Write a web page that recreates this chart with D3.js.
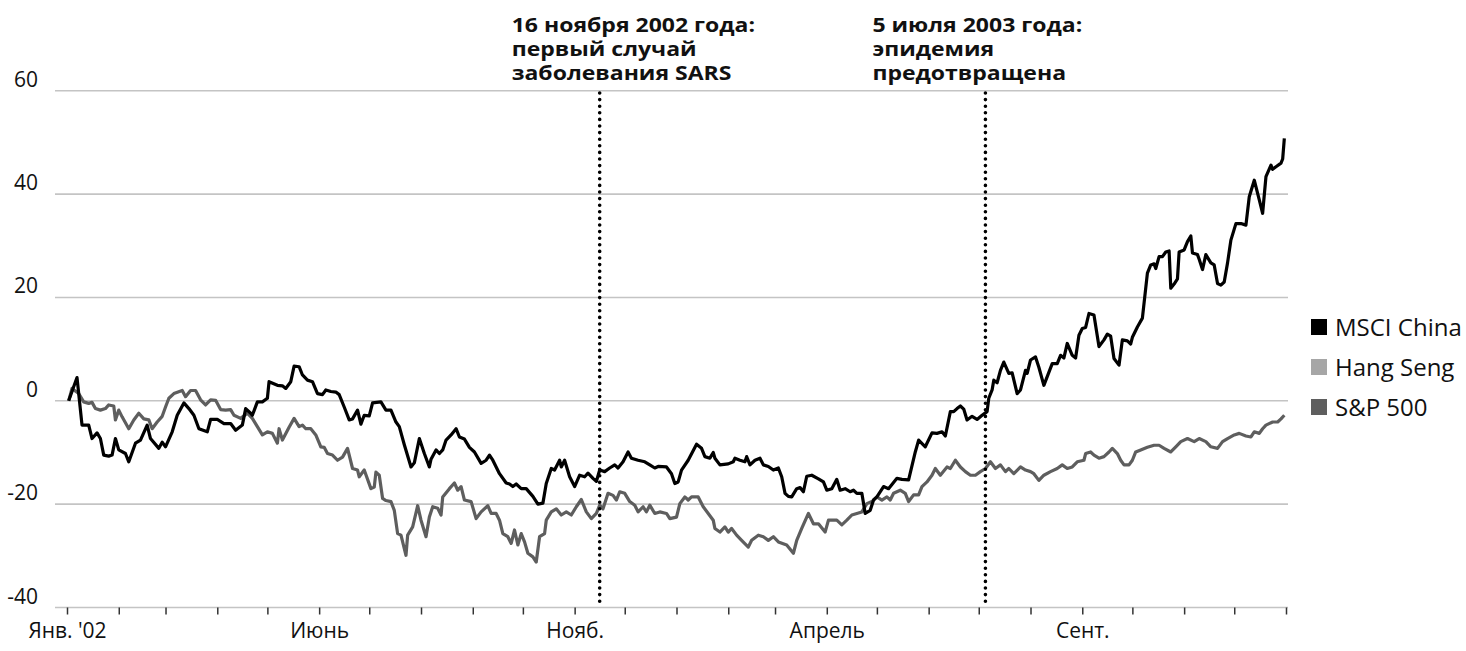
<!DOCTYPE html>
<html>
<head>
<meta charset="utf-8">
<script src="https://cdn.jsdelivr.net/npm/d3@7"></script>
<style>
  body { margin: 0; background: #fff; }
  svg { display: block; }
  text { font-family: "Open Sans", "Noto Sans", sans-serif; }
</style>
</head>
<body>
<svg id="chart" width="1466" height="651"></svg>
<script>
// Cumulative change since 1 Jan 2002, percent
const msciChina = [
  ["2002-01-02",0],["2002-01-07",4.5],["2002-01-10",-4.7],["2002-01-14",-4.7],["2002-01-16",-7.3],["2002-01-19",-6.2],["2002-01-21",-7.3],["2002-01-23",-10.5],["2002-01-26",-10.7],["2002-01-28",-10.5],["2002-01-30",-7.3],["2002-02-01",-9.5],["2002-02-05",-10.2],["2002-02-07",-11.8],["2002-02-11",-8.2],["2002-02-14",-7.6],["2002-02-18",-4.7],["2002-02-20",-7.3],["2002-02-25",-9.2],["2002-02-27",-8.0],
  ["2002-03-01",-8.9],["2002-03-05",-6.0],["2002-03-08",-2.8],["2002-03-12",-0.4],["2002-03-15",-1.5],["2002-03-18",-2.8],["2002-03-21",-5.4],["2002-03-26",-6.0],["2002-03-28",-3.6],["2002-04-01",-3.6],["2002-04-05",-4.4],["2002-04-09",-4.4],["2002-04-12",-5.7],["2002-04-16",-4.7],["2002-04-18",-1.5],["2002-04-21",-2.4],["2002-04-22",-2.8],["2002-04-25",-0.2],["2002-04-28",-0.2],
  ["2002-05-01",0.5],["2002-05-02",3.7],["2002-05-07",3.0],["2002-05-10",2.9],["2002-05-12",2.4],["2002-05-15",3.7],["2002-05-17",6.7],["2002-05-20",6.6],["2002-05-22",5.0],["2002-05-25",4.0],["2002-05-28",3.7],["2002-05-31",1.4],["2002-06-03",1.2],["2002-06-05",2.1],["2002-06-08",1.8],["2002-06-11",1.7],["2002-06-13",1.2],["2002-06-16",-1.2],["2002-06-19",-3.7],["2002-06-21",-3.5],["2002-06-24",-1.8],["2002-06-26",-4.5],["2002-06-28",-2.8],
  ["2002-07-01",-2.9],["2002-07-03",-0.4],["2002-07-08",-0.2],["2002-07-11",-1.8],["2002-07-14",-1.8],["2002-07-17",-4.1],["2002-07-19",-5.0],["2002-07-22",-8.5],["2002-07-26",-12.8],["2002-07-28",-12.0],["2002-07-31",-7.3],["2002-08-03",-10.2],["2002-08-06",-12.8],["2002-08-07",-11.3],["2002-08-10",-9.5],["2002-08-12",-10.2],["2002-08-14",-9.5],["2002-08-16",-7.6],["2002-08-19",-6.6],["2002-08-22",-5.4],["2002-08-24",-7.0],["2002-08-27",-7.4],["2002-08-30",-9.0],
  ["2002-09-02",-9.9],["2002-09-06",-12.1],["2002-09-09",-11.5],["2002-09-11",-10.5],["2002-09-13",-11.5],["2002-09-17",-14.1],["2002-09-21",-15.9],["2002-09-23",-16.1],["2002-09-25",-16.6],["2002-09-27",-16.1],["2002-09-30",-17.0],["2002-10-03",-17.0],["2002-10-07",-18.5],["2002-10-10",-20.0],["2002-10-13",-19.8],["2002-10-15",-16.0],["2002-10-18",-13.1],["2002-10-20",-13.4],["2002-10-23",-11.5],["2002-10-24",-12.8],["2002-10-26",-11.5],["2002-10-29",-14.7],
  ["2002-11-01",-16.6],["2002-11-04",-14.4],["2002-11-07",-14.7],["2002-11-09",-14.0],["2002-11-12",-15.0],["2002-11-14",-15.6],["2002-11-16",-13.4],["2002-11-19",-13.7],["2002-11-22",-13.0],["2002-11-25",-12.4],["2002-11-27",-13.0],["2002-11-30",-11.8],["2002-12-03",-9.9],["2002-12-05",-11.1],["2002-12-09",-11.5],["2002-12-13",-11.8],["2002-12-16",-12.4],["2002-12-19",-13.0],["2002-12-21",-12.7],["2002-12-26",-12.8],["2002-12-29",-14.1],["2002-12-31",-16.0],
  ["2003-01-02",-15.7],["2003-01-04",-13.4],["2003-01-08",-11.5],["2003-01-13",-8.4],["2003-01-16",-9.2],["2003-01-18",-10.8],["2003-01-21",-11.1],["2003-01-23",-10.0],["2003-01-24",-11.1],["2003-01-27",-12.4],["2003-02-01",-12.2],["2003-02-04",-11.8],["2003-02-05",-11.1],["2003-02-08",-11.5],["2003-02-11",-11.8],["2003-02-12",-10.8],["2003-02-14",-12.4],["2003-02-17",-11.5],["2003-02-20",-11.1],["2003-02-22",-12.4],["2003-02-25",-12.7],["2003-02-28",-13.4],
  ["2003-03-03",-13.0],["2003-03-05",-14.7],["2003-03-07",-17.9],["2003-03-09",-18.5],["2003-03-11",-18.6],["2003-03-14",-17.0],["2003-03-16",-16.8],["2003-03-18",-17.6],["2003-03-20",-14.6],["2003-03-23",-14.4],["2003-03-27",-15.1],["2003-03-30",-15.7],["2003-04-01",-17.3],["2003-04-04",-17.0],["2003-04-07",-15.2],["2003-04-09",-17.3],["2003-04-12",-17.0],["2003-04-15",-17.6],["2003-04-17",-17.3],["2003-04-19",-17.9],["2003-04-22",-17.9],["2003-04-24",-21.8],["2003-04-27",-21.2],["2003-04-29",-19.2],
  ["2003-05-01",-18.6],["2003-05-05",-16.6],["2003-05-08",-17.0],["2003-05-13",-15.0],["2003-05-16",-15.2],["2003-05-20",-15.3],["2003-05-24",-9.9],["2003-05-26",-7.6],["2003-05-30",-8.9],["2003-06-03",-6.2],["2003-06-06",-6.3],["2003-06-09",-6.0],["2003-06-11",-6.8],["2003-06-14",-2.1],["2003-06-16",-2.1],["2003-06-18",-1.5],["2003-06-20",-1.0],["2003-06-22",-1.6],["2003-06-24",-3.7],["2003-06-27",-3.0],["2003-06-30",-3.6],
  ["2003-07-03",-2.8],["2003-07-06",-2.1],["2003-07-07",0.5],["2003-07-09",2.1],["2003-07-10",4.0],["2003-07-12",3.5],["2003-07-14",5.9],["2003-07-16",7.5],["2003-07-19",5.3],["2003-07-21",5.4],["2003-07-24",1.4],["2003-07-26",2.1],["2003-07-29",5.9],["2003-07-30",5.3],["2003-08-01",7.9],["2003-08-04",8.5],["2003-08-06",6.5],["2003-08-09",3.0],["2003-08-14",7.2],["2003-08-17",7.2],["2003-08-19",8.8],["2003-08-21",8.3],["2003-08-23",11.1],["2003-08-26",8.8],["2003-08-28",8.3],["2003-08-30",12.7],
  ["2003-09-01",14.0],["2003-09-03",14.2],["2003-09-05",16.9],["2003-09-08",16.6],["2003-09-11",10.5],["2003-09-14",11.8],["2003-09-16",12.9],["2003-09-18",12.5],["2003-09-20",8.2],["2003-09-23",6.9],["2003-09-25",11.8],["2003-09-28",11.6],["2003-09-30",11.0],["2003-10-01",12.3],["2003-10-04",14.3],["2003-10-07",16.0],["2003-10-10",24.7],["2003-10-12",26.3],["2003-10-14",26.5],["2003-10-15",25.6],["2003-10-17",27.9],["2003-10-19",27.9],["2003-10-21",28.8],["2003-10-23",29.0],["2003-10-24",21.8],["2003-10-26",22.6],["2003-10-28",23.6],["2003-10-29",28.8],
  ["2003-11-01",29.2],["2003-11-03",30.8],["2003-11-05",31.9],["2003-11-06",28.6],["2003-11-09",28.3],["2003-11-10",27.4],["2003-11-12",25.4],["2003-11-14",28.3],["2003-11-17",26.7],["2003-11-19",26.3],["2003-11-21",22.7],["2003-11-23",22.4],["2003-11-25",23.0],["2003-11-27",26.7],["2003-11-29",31.1],["2003-12-02",34.3],["2003-12-05",34.3],["2003-12-08",34.0],["2003-12-10",39.5],["2003-12-13",42.7],["2003-12-16",38.9],["2003-12-18",36.3],["2003-12-20",43.4],["2003-12-23",45.6],["2003-12-24",44.8],["2003-12-26",45.3],["2003-12-29",46.0],["2003-12-30",46.8],["2003-12-31",50.8]
];

const sp500 = [
  ["2002-01-02",0],["2002-01-04",2.4],["2002-01-08",1.4],["2002-01-11",-0.2],["2002-01-14",-0.5],["2002-01-16",-0.3],["2002-01-18",-1.5],["2002-01-21",-1.8],["2002-01-24",-1.5],["2002-01-26",-0.8],["2002-01-29",-1.0],["2002-01-30",-3.7],["2002-02-01",-1.8],["2002-02-03",-3.1],["2002-02-07",-5.4],["2002-02-10",-3.7],["2002-02-13",-2.4],["2002-02-16",-3.5],["2002-02-19",-3.7],["2002-02-21",-5.4],["2002-02-24",-4.1],["2002-02-27",-3.0],
  ["2002-03-01",-1.2],["2002-03-03",0.5],["2002-03-06",1.4],["2002-03-11",2.0],["2002-03-13",0.8],["2002-03-16",2.0],["2002-03-19",2.0],["2002-03-22",0.2],["2002-03-25",-0.8],["2002-03-28",0.2],["2002-03-31",0.1],["2002-04-03",-1.7],["2002-04-06",-1.8],["2002-04-09",-1.7],["2002-04-11",-2.8],["2002-04-15",-3.4],["2002-04-19",-2.4],["2002-04-22",-3.4],["2002-04-25",-5.0],["2002-04-28",-6.6],
  ["2002-05-01",-6.0],["2002-05-04",-6.3],["2002-05-07",-8.2],["2002-05-08",-5.4],["2002-05-10",-7.6],["2002-05-14",-5.1],["2002-05-17",-3.4],["2002-05-20",-5.0],["2002-05-22",-4.7],["2002-05-24",-5.4],["2002-05-27",-5.4],["2002-05-30",-6.6],["2002-06-02",-8.9],["2002-06-04",-9.0],["2002-06-06",-10.2],["2002-06-09",-10.5],["2002-06-12",-11.5],["2002-06-15",-10.9],["2002-06-18",-9.2],["2002-06-21",-13.1],["2002-06-24",-13.4],["2002-06-25",-14.7],["2002-06-28",-13.4],
  ["2002-07-02",-17.0],["2002-07-04",-16.7],["2002-07-05",-13.8],["2002-07-07",-14.4],["2002-07-09",-18.9],["2002-07-11",-19.3],["2002-07-14",-19.5],["2002-07-16",-21.2],["2002-07-18",-25.7],["2002-07-20",-26.0],["2002-07-23",-29.9],["2002-07-24",-26.0],["2002-07-27",-24.4],["2002-07-30",-20.3],["2002-08-01",-23.1],["2002-08-04",-26.3],["2002-08-06",-22.5],["2002-08-08",-20.5],["2002-08-11",-20.8],["2002-08-13",-22.1],["2002-08-14",-18.6],["2002-08-18",-17.0],["2002-08-21",-15.9],["2002-08-23",-17.3],["2002-08-25",-16.6],["2002-08-27",-19.2],["2002-08-31",-19.5],
  ["2002-09-03",-22.8],["2002-09-06",-21.5],["2002-09-10",-20.3],["2002-09-12",-21.8],["2002-09-15",-21.8],["2002-09-17",-23.1],["2002-09-19",-25.7],["2002-09-22",-26.3],["2002-09-24",-27.6],["2002-09-26",-25.0],["2002-09-28",-27.9],["2002-09-30",-25.7],["2002-10-02",-27.3],["2002-10-04",-29.5],["2002-10-07",-30.2],["2002-10-09",-31.2],["2002-10-11",-26.3],["2002-10-14",-25.7],["2002-10-15",-23.1],["2002-10-18",-21.5],["2002-10-21",-20.9],["2002-10-24",-22.1],["2002-10-27",-21.5],["2002-10-30",-22.1],
  ["2002-11-02",-20.5],["2002-11-05",-19.1],["2002-11-08",-21.5],["2002-11-11",-22.8],["2002-11-14",-21.8],["2002-11-16",-20.2],["2002-11-18",-20.9],["2002-11-21",-17.9],["2002-11-24",-18.3],["2002-11-26",-19.2],["2002-11-28",-17.6],["2002-12-01",-17.9],["2002-12-04",-19.5],["2002-12-07",-20.2],["2002-12-09",-21.5],["2002-12-12",-20.5],["2002-12-14",-21.5],["2002-12-16",-20.2],["2002-12-19",-21.8],["2002-12-22",-21.5],["2002-12-26",-21.8],["2002-12-28",-22.8],
  ["2003-01-01",-22.5],["2003-01-03",-19.9],["2003-01-06",-18.6],["2003-01-08",-19.2],["2003-01-10",-18.6],["2003-01-14",-18.6],["2003-01-17",-20.5],["2003-01-20",-21.8],["2003-01-23",-23.1],["2003-01-24",-24.7],["2003-01-27",-25.4],["2003-01-30",-24.4],["2003-02-01",-25.4],["2003-02-03",-24.7],["2003-02-06",-26.0],["2003-02-09",-27.0],["2003-02-13",-28.3],["2003-02-15",-27.0],["2003-02-19",-26.0],["2003-02-22",-26.3],["2003-02-25",-27.0],["2003-02-28",-26.3],
  ["2003-03-03",-27.3],["2003-03-08",-27.9],["2003-03-12",-29.5],["2003-03-14",-27.0],["2003-03-17",-24.7],["2003-03-21",-21.8],["2003-03-24",-23.8],["2003-03-27",-23.8],["2003-03-31",-25.4],["2003-04-02",-23.1],["2003-04-07",-23.1],["2003-04-10",-24.0],["2003-04-13",-23.1],["2003-04-16",-22.1],["2003-04-19",-21.8],["2003-04-22",-21.5],["2003-04-25",-19.9],["2003-04-28",-19.5],
  ["2003-05-01",-18.6],["2003-05-04",-19.2],["2003-05-07",-18.6],["2003-05-09",-19.2],["2003-05-11",-17.9],["2003-05-15",-17.3],["2003-05-18",-17.9],["2003-05-20",-19.5],["2003-05-23",-18.2],["2003-05-26",-18.2],["2003-05-28",-16.6],["2003-05-31",-15.7],["2003-06-03",-14.4],["2003-06-05",-13.1],["2003-06-08",-14.4],["2003-06-12",-12.8],["2003-06-14",-13.1],["2003-06-17",-11.5],["2003-06-20",-12.8],["2003-06-23",-13.7],["2003-06-26",-14.4],["2003-06-29",-14.4],
  ["2003-07-02",-13.7],["2003-07-05",-13.1],["2003-07-08",-11.8],["2003-07-11",-13.1],["2003-07-14",-12.4],["2003-07-17",-13.7],["2003-07-19",-13.1],["2003-07-22",-14.1],["2003-07-26",-12.8],["2003-07-29",-13.4],["2003-08-01",-13.7],["2003-08-03",-14.1],["2003-08-06",-15.4],["2003-08-09",-14.4],["2003-08-13",-13.7],["2003-08-17",-13.1],["2003-08-20",-12.4],["2003-08-23",-13.1],["2003-08-26",-12.8],["2003-08-29",-11.8],
  ["2003-09-02",-11.5],["2003-09-03",-10.2],["2003-09-06",-9.9],["2003-09-08",-10.5],["2003-09-11",-11.1],["2003-09-14",-10.8],["2003-09-17",-9.9],["2003-09-19",-9.2],["2003-09-22",-10.2],["2003-09-24",-11.5],["2003-09-26",-12.4],["2003-09-29",-12.4],["2003-10-01",-11.5],["2003-10-03",-9.9],["2003-10-06",-9.5],["2003-10-10",-9.0],["2003-10-14",-8.6],["2003-10-17",-8.6],["2003-10-20",-9.2],["2003-10-24",-9.9],["2003-10-27",-8.9],["2003-10-30",-7.9],
  ["2003-11-03",-7.3],["2003-11-07",-7.9],["2003-11-10",-7.3],["2003-11-14",-7.9],["2003-11-17",-8.9],["2003-11-21",-9.2],["2003-11-24",-7.9],["2003-11-27",-7.3],["2003-12-01",-6.6],["2003-12-04",-6.3],["2003-12-08",-6.8],["2003-12-11",-7.0],["2003-12-13",-6.0],["2003-12-16",-6.3],["2003-12-18",-5.4],["2003-12-20",-4.7],["2003-12-24",-4.1],["2003-12-27",-4.1],["2003-12-29",-3.5],["2003-12-31",-2.8]
];

const legendNames = ["MSCI China", "Hang Seng", "S&P 500"];
const yTicks = [-40, -20, 0, 20, 40, 60];
const xTickLabels = [
  ["2002-01-01", "Янв. '02"],
  ["2002-06-01", "Июнь"],
  ["2002-11-01", "Нояб."],
  ["2003-04-01", "Апрель"],
  ["2003-09-01", "Сент."]
];
const events = [
  ["2002-11-16", ["16 ноября 2002 года:", "первый случай", "заболевания SARS"]],
  ["2003-07-05", ["5 июля 2003 года:", "эпидемия", "предотвращена"]]
];

// Styling
const legendColors = ["#000000", "#a6a6a6", "#5e5e5e"];
const eventTextShift = [-88, -113];
const textInk = "#111";

const parse = d3.utcParse("%Y-%m-%d");
const svg = d3.select("#chart");

const x = d3.scaleUtc()
  .domain([parse("2002-01-01"), parse("2004-01-01")])
  .range([67, 1286]);
const y = d3.scaleLinear().domain([-40, 60]).range([607.5, 90.8]);

const gridX0 = 55, gridX1 = 1288;

// Horizontal gridlines (the -40 line doubles as the baseline)
svg.append("g").selectAll("line").data(yTicks).join("line")
  .attr("x1", gridX0).attr("x2", gridX1)
  .attr("y1", d => y(d)).attr("y2", d => y(d))
  .attr("stroke", "#c4c4c4").attr("stroke-width", 1.6);

// Y labels sit just above their gridlines
svg.append("g").selectAll("text").data(yTicks).join("text")
  .attr("x", 38).attr("y", d => y(d) - 4)
  .attr("text-anchor", "end")
  .attr("font-size", 21).attr("fill", textInk)
  .text(d => d);

// Month ticks along the bottom
const labelMap = new Map(xTickLabels.map(([d, t]) => [+parse(d), t]));
const months = d3.utcMonth.range(parse("2002-01-01"), parse("2004-01-02"));
const xAxis = d3.axisBottom(x)
  .tickValues(months)
  .tickSize(7)
  .tickPadding(9)
  .tickFormat(d => labelMap.get(+d) || "");
const ax = svg.append("g").attr("transform", `translate(0,${y(-40)})`).call(xAxis);
ax.select(".domain").remove();
ax.selectAll(".tick line").attr("stroke", "#333").attr("stroke-width", 1.5);
ax.selectAll(".tick text")
  .attr("font-family", "\"Open Sans\", sans-serif")
  .attr("font-size", 21).attr("fill", textInk);

// Index lines
const line = d3.line()
  .x(d => x(parse(d[0])))
  .y(d => y(d[1]));

svg.append("path").datum(sp500)
  .attr("d", line).attr("fill", "none")
  .attr("stroke", legendColors[2]).attr("stroke-width", 3.2)
  .attr("stroke-linejoin", "round");

svg.append("path").datum(msciChina)
  .attr("d", line).attr("fill", "none")
  .attr("stroke", legendColors[0]).attr("stroke-width", 3.2)
  .attr("stroke-linejoin", "round");

// Event markers with captions
events.forEach(([date, lines], i) => {
  const ex = x(parse(date));
  svg.append("line")
    .attr("x1", ex).attr("x2", ex)
    .attr("y1", 93).attr("y2", y(-40))
    .attr("stroke", "#000").attr("stroke-width", 3.6)
    .attr("stroke-linecap", "round")
    .attr("stroke-dasharray", "0 6.6");
  const t = svg.append("text")
    .attr("transform", `translate(${ex + eventTextShift[i]},0) scale(1.15,1)`)
    .attr("font-size", 20).attr("font-weight", 700).attr("fill", textInk);
  lines.forEach((s, k) => {
    t.append("tspan").attr("x", 0).attr("y", 32 + k * 24).text(s);
  });
});

// Legend
const lg = svg.append("g").selectAll("g").data(legendNames).join("g")
  .attr("transform", (d, i) => `translate(1311,${327 + i * 40})`);
lg.append("rect").attr("x", 0).attr("y", -8).attr("width", 16).attr("height", 16)
  .attr("fill", (d, i) => legendColors[i]);
lg.append("text").attr("x", 24).attr("y", 8.5)
  .attr("font-size", 24).attr("fill", textInk)
  .text(d => d);
</script>
</body>
</html>
